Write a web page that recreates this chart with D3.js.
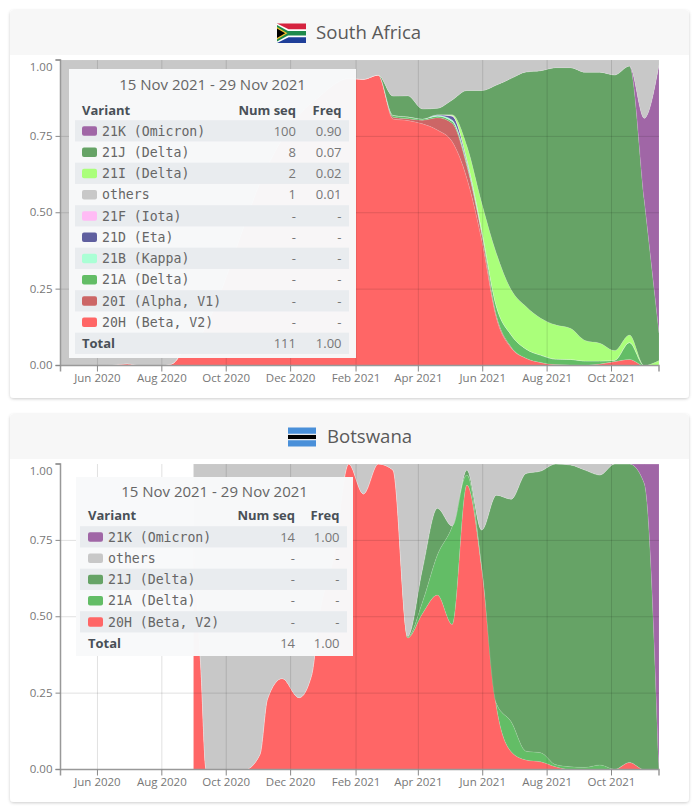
<!DOCTYPE html>
<html lang="en">
<head>
<meta charset="UTF-8">
<title>Variant frequencies</title>
<script src="https://cdn.jsdelivr.net/npm/d3@7"></script>
<style>
    html, body { margin: 0; padding: 0; background: #fff; }
    svg { display: block; font-family: "Open Sans", sans-serif; }
    .mono { font-family: "DejaVu Sans Mono", monospace; }
</style>
</head>
<body>
<svg id="fig" width="700" height="812"></svg>
<script>
// colours
const colors = {
    "21K": "#a066a6", "21J": "#66a366", "21I": "#aaff7a", "others": "#c8c8c8",
    "21F": "#ffbbf5", "21D": "#5f5f9f", "21B": "#aaffd5", "21A": "#63bd66",
    "20I": "#cc6666", "20H": "#ff6666"
}

const tickDates = ["2020-06-01", "2020-08-01", "2020-10-01", "2020-12-01", "2021-02-01", "2021-04-01", "2021-06-01", "2021-08-01", "2021-10-01"]
const yTicks = [0, 0.25, 0.5, 0.75, 1]
const domainDates = ["2020-04-27", "2021-11-15"]

// South Africa
const saDates = ["2020-04-27", "2020-05-04", "2020-05-18", "2020-06-01", "2020-06-15", "2020-06-29", "2020-07-13", "2020-07-27", "2020-08-10", "2020-08-24", "2020-09-07", "2020-09-21", "2020-10-05", "2020-10-19", "2020-11-02", "2020-11-16", "2020-11-30", "2020-12-14", "2020-12-28", "2021-01-11", "2021-01-25", "2021-02-08", "2021-02-22", "2021-03-08", "2021-03-22", "2021-04-05", "2021-04-19", "2021-05-03", "2021-05-17", "2021-05-31", "2021-06-14", "2021-06-28", "2021-07-12", "2021-07-26", "2021-08-09", "2021-08-23", "2021-09-06", "2021-09-20", "2021-10-04", "2021-10-18", "2021-11-01", "2021-11-15"]
const sa20H = [0, 0, 0, 0, .002, .006, 0, 0, .005, .06, .1, .2, .33, .47, .6, .7, .78, .84, .88, .92, .94, .937, .951, .807, .802, .791, .771, .733, .613, .411, .155, .057, .024, .01, .003, .002, .001, .005, .013, .02, 0, 0]
const sa20I = [0, 0, 0, 0, 0, 0, 0, 0, 0, 0, 0, 0, 0, 0, 0, 0, 0, 0, 0, 0, 0, 0, 0, .006, .006, .012, .04, .06, .04, .02, .008, .003, 0, 0, 0, 0, 0, 0, 0, 0, 0, 0]
const sa21A = [0, 0, 0, 0, 0, 0, 0, 0, 0, 0, 0, 0, 0, 0, 0, 0, 0, 0, 0, 0, 0, 0, 0, .006, .006, .004, .005, .006, .008, .01, .03, .04, .03, .024, .018, .018, .014, .01, .004, .055, 0, 0]
const sa21B = [0, 0, 0, 0, 0, 0, 0, 0, 0, 0, 0, 0, 0, 0, 0, 0, 0, 0, 0, 0, 0, 0, 0, 0, 0, 0, .003, .005, .004, .002, 0, 0, 0, 0, 0, 0, 0, 0, 0, 0, 0, 0]
const sa21D = [0, 0, 0, 0, 0, 0, 0, 0, 0, 0, 0, 0, 0, 0, 0, 0, 0, 0, 0, 0, 0, 0, 0, 0, 0, 0, .002, .012, .006, 0, 0, 0, 0, 0, 0, 0, 0, 0, 0, 0, 0, 0]
const sa21F = [0, 0, 0, 0, 0, 0, 0, 0, 0, 0, 0, 0, 0, 0, 0, 0, 0, 0, 0, 0, 0, 0, 0, 0, 0, 0, 0, .002, .003, .002, 0, 0, 0, 0, 0, 0, 0, 0, 0, 0, 0, 0]
const sa21I = [0, 0, 0, 0, 0, 0, 0, 0, 0, 0, 0, 0, 0, 0, 0, 0, 0, 0, 0, 0, 0, 0, 0, 0, 0, 0, 0, .003, .045, .088, .174, .148, .139, .121, .112, .102, .067, .058, .032, .025, 0, .016]
const sa21J = [0, 0, 0, 0, 0, 0, 0, 0, 0, 0, 0, 0, 0, 0, 0, 0, 0, 0, 0, 0, 0, 0, 0, .063, .069, .033, .021, .048, .181, .367, .551, .692, .768, .81, .842, .853, .878, .887, .902, .88, .542, .09]
const sa21K = [0, 0, 0, 0, 0, 0, 0, 0, 0, 0, 0, 0, 0, 0, 0, 0, 0, 0, 0, 0, 0, 0, 0, 0, 0, 0, 0, 0, 0, 0, 0, 0, 0, 0, 0, 0, 0, 0, 0, 0, .267, .878]
const saOthers = [1, 1, 1, 1, .998, .994, 1, 1, .995, .94, .9, .8, .67, .53, .4, .3, .22, .16, .12, .08, .06, .063, .049, .118, .117, .16, .158, .131, .1, .1, .082, .06, .039, .035, .025, .025, .04, .04, .049, .02, .191, .016]

const saVariants = ["21K (Omicron)", "21J (Delta)", "21I (Delta)", "others", "21F (Iota)", "21D (Eta)", "21B (Kappa)", "21A (Delta)", "20I (Alpha, V1)", "20H (Beta, V2)"]
const saNumSeq = ["100", "8", "2", "1", "-", "-", "-", "-", "-", "-"]
const saFreq = ["0.90", "0.07", "0.02", "0.01", "-", "-", "-", "-", "-", "-"]

// Botswana
const bwDates = ["2020-08-31", "2020-09-07", "2020-09-12", "2020-09-21", "2020-10-05", "2020-10-19", "2020-11-02", "2020-11-09", "2020-11-23", "2020-12-09", "2020-12-21", "2020-12-28", "2021-01-11", "2021-01-25", "2021-02-08", "2021-02-22", "2021-03-08", "2021-03-22", "2021-04-05", "2021-04-19", "2021-05-03", "2021-05-17", "2021-05-31", "2021-06-14", "2021-06-28", "2021-07-12", "2021-07-26", "2021-08-09", "2021-08-23", "2021-09-06", "2021-09-20", "2021-10-04", "2021-10-18", "2021-11-01", "2021-11-15"]
const bw20H = [.75, .33, 0, 0, 0, 0, .05, .23, .298, .235, .31, .5, .7, 1, .902, 1, .98, .431, .511, .571, .475, .931, .658, .205, .058, .031, .025, .009, 0, 0, 0, 0, .023, 0, 0]
const bw21A = [0, 0, 0, 0, 0, 0, 0, 0, 0, 0, 0, 0, 0, 0, 0, 0, 0, .003, .038, .131, .32, .033, .008, .011, .098, .029, .03, .007, .009, .007, .015, .001, 0, 0, 0]
const bw21J = [0, 0, 0, 0, 0, 0, 0, 0, 0, 0, 0, 0, 0, 0, 0, 0, 0, .002, .109, .153, .002, .016, .118, .682, .729, .909, .922, .984, .988, .973, .949, .999, .977, .937, 0]
const bw21K = [0, 0, 0, 0, 0, 0, 0, 0, 0, 0, 0, 0, 0, 0, 0, 0, 0, 0, 0, 0, 0, 0, 0, 0, 0, 0, 0, 0, 0, 0, 0, 0, 0, .063, 1]
const bwOthers = [.25, .67, 1, 1, 1, 1, .95, .77, .702, .765, .69, .5, .3, 0, .098, 0, .02, .564, .342, .145, .203, .02, .216, .102, .115, .031, .023, 0, .003, .02, .036, 0, 0, 0, 0]

const bwVariants = ["21K (Omicron)", "others", "21J (Delta)", "21A (Delta)", "20H (Beta, V2)"]
const bwNumSeq = ["14", "-", "-", "-", "-"]
const bwFreq = ["1.00", "-", "-", "-", "-"]

const parseDate = d3.utcParse("%Y-%m-%d")
const fig = d3.select("#fig")

// soft card shadow
const defs = fig.append("defs")
const shadow = defs.append("filter").attr("id", "shadow")
    .attr("x", "-2%").attr("y", "-2%").attr("width", "104%").attr("height", "104%")
shadow.append("feDropShadow").attr("dx", 0).attr("dy", 1).attr("stdDeviation", 1.5)
    .attr("flood-color", "#000").attr("flood-opacity", 0.2)

function drawFlag(g, name, x, y, w, h) {
    if (name === "South Africa") {
        g.append("rect").attr("x", x).attr("y", y).attr("width", w).attr("height", h / 2).attr("fill", "#d5233f")
        g.append("rect").attr("x", x).attr("y", y + h / 2).attr("width", w).attr("height", h / 2).attr("fill", "#1f3f99")
        g.append("path").attr("fill", "#fff")
            .attr("d", `M${x},${y} L${x + w * 0.4},${y + h * 0.3} H${x + w} V${y + h * 0.7} H${x + w * 0.4} L${x},${y + h} Z`)
        g.append("path").attr("fill", "#1f8a4c")
            .attr("d", `M${x},${y + h * 0.08} L${x + w * 0.38},${y + h * 0.38} H${x + w} V${y + h * 0.62} H${x + w * 0.38} L${x},${y + h * 0.92} Z`)
        g.append("path").attr("fill", "#f3c02d")
            .attr("d", `M${x},${y + h * 0.18} L${x + w * 0.36},${y + h / 2} L${x},${y + h * 0.82} Z`)
        g.append("path").attr("fill", "#000")
            .attr("d", `M${x},${y + h * 0.26} L${x + w * 0.28},${y + h / 2} L${x},${y + h * 0.74} Z`)
    } else {
        g.append("rect").attr("x", x).attr("y", y).attr("width", w).attr("height", h).attr("fill", "#4a90d9")
        g.append("rect").attr("x", x).attr("y", y + h * 0.33).attr("width", w).attr("height", h * 0.34).attr("fill", "#fff")
        g.append("rect").attr("x", x).attr("y", y + h * 0.39).attr("width", w).attr("height", h * 0.22).attr("fill", "#000")
    }
}

function drawPanel(p) {
    const g = fig.append("g")

    // card
    g.append("rect").attr("x", 10).attr("y", p.cardTop).attr("width", 679).attr("height", p.cardBottom - p.cardTop)
        .attr("rx", 4).attr("fill", "#fff").attr("filter", "url(#shadow)")
    g.append("path").attr("fill", "#f7f7f7")
        .attr("d", `M10,${p.headerBottom} V${p.cardTop + 4} Q10,${p.cardTop} 14,${p.cardTop} H685 Q689,${p.cardTop} 689,${p.cardTop + 4} V${p.headerBottom} Z`)
    drawFlag(g, p.name, p.flagX, p.flagY, p.flagW, p.flagH)
    g.append("text").attr("x", p.titleX).attr("y", p.titleY).attr("font-size", 18.6).attr("fill", "#5a5a5a").text(p.name)

    // scales
    const x = d3.scaleUtc().domain(domainDates.map(parseDate)).range([60.5, 659])
    const y = d3.scaleLinear().domain([0, 1]).range([p.bottom, p.top])

    // stacked areas
    const rows = p.dates.map(function (d, i) {
        const row = { date: parseDate(d) }
        p.keys.forEach(function (k) { row[k] = p.series[k][i] })
        return row
    })
    const layers = d3.stack().keys(p.keys)(rows)
    const area = d3.area()
        .curve(d3.curveMonotoneX)
        .x(d => x(d.data.date))
        .y0(d => y(d[0]))
        .y1(d => y(Math.min(d[1], 1)))
    g.append("g").selectAll("path").data(layers).join("path")
        .attr("d", area)
        .attr("fill", d => colors[d.key])
        .attr("stroke", "#fff").attr("stroke-opacity", 0.2).attr("stroke-width", 0.5)

    // grid
    const xTicks = tickDates.map(parseDate)
    g.append("g").selectAll("line").data(xTicks).join("line")
        .attr("x1", d => x(d)).attr("x2", d => x(d)).attr("y1", p.top).attr("y2", p.bottom)
        .attr("stroke", "#000").attr("stroke-opacity", 0.12)
    g.append("g").selectAll("line").data(yTicks.slice(1, 4)).join("line")
        .attr("x1", 60.5).attr("x2", 659).attr("y1", d => y(d)).attr("y2", d => y(d))
        .attr("stroke", "#000").attr("stroke-opacity", 0.12)

    // axes
    const xAxis = g.append("g").attr("transform", `translate(0,${p.bottom})`)
        .call(d3.axisBottom(x).tickValues(xTicks).tickFormat(d3.utcFormat("%b %Y")).tickSize(6).tickPadding(2).offset(0))
    const yAxis = g.append("g").attr("transform", "translate(60.5,0)")
        .call(d3.axisLeft(y).tickValues(yTicks).tickFormat(d3.format(".2f")).tickSize(5).tickPadding(3).offset(0))
    xAxis.selectAll("text").attr("font-family", "Open Sans").attr("font-size", 11.5).attr("fill", "#777")
    yAxis.selectAll("text").attr("font-family", "Open Sans").attr("font-size", 11.5).attr("fill", "#777")
    yAxis.selectAll(".tick").filter(d => d === 1).select("text").attr("dy", "0.95em")
    yAxis.selectAll(".tick").filter(d => d === 0).select("text").attr("dy", "0.3em")
    g.selectAll(".domain").attr("stroke", "#999").attr("stroke-width", 1.5)
    g.selectAll(".tick line").attr("stroke", "#888")

    // legend box
    const lg = g.append("g")
    lg.append("rect").attr("x", p.boxX).attr("y", p.boxY).attr("width", p.boxW).attr("height", p.boxH)
        .attr("fill", "#f8f9fa").attr("fill-opacity", 0.98)
    lg.append("text").attr("x", p.boxX + p.boxW / 2).attr("y", p.boxY + p.dateDy).attr("text-anchor", "middle")
        .attr("font-size", 15).attr("fill", "#666").text("15 Nov 2021 - 29 Nov 2021")

    const headY = p.boxY + p.headDy
    lg.append("text").attr("x", p.textLeft).attr("y", headY).attr("font-size", 13).attr("font-weight", 700).attr("fill", "#495057").text("Variant")
    lg.append("text").attr("x", p.numRight).attr("y", headY).attr("text-anchor", "end").attr("font-size", 13).attr("font-weight", 700).attr("fill", "#495057").text("Num seq")
    lg.append("text").attr("x", p.freqRight).attr("y", headY).attr("text-anchor", "end").attr("font-size", 13).attr("font-weight", 700).attr("fill", "#495057").text("Freq")

    const rowH = 21.25
    const legendRows = p.variants.map(function (v, i) {
        return { name: v, num: p.numSeq[i], freq: p.freq[i], key: v.split(" ")[0] }
    })
    const row = lg.selectAll("g.row").data(legendRows).join("g")
        .attr("class", "row")
        .attr("transform", (d, i) => `translate(0,${p.rowTop + i * rowH})`)
    row.filter((d, i) => i % 2 === 0).append("rect")
        .attr("x", p.stripeX).attr("width", p.stripeW).attr("height", rowH).attr("fill", "#e9ecef")
    row.append("rect").attr("x", p.textLeft).attr("y", 6).attr("width", 15).attr("height", 9.5).attr("rx", 2)
        .attr("fill", d => colors[d.key])
    row.append("text").attr("class", "mono").attr("x", p.textLeft + 20).attr("y", 15.5)
        .attr("font-size", 13.2).attr("fill", "#666").text(d => d.name)
    row.append("text").attr("x", p.numRight).attr("y", 15.5).attr("text-anchor", "end")
        .attr("font-size", 13).attr("fill", "#777").text(d => d.num)
    row.append("text").attr("x", p.freqRight).attr("y", 15.5).attr("text-anchor", "end")
        .attr("font-size", 13).attr("fill", "#777").text(d => d.freq)

    // total row
    const totalY = p.rowTop + p.variants.length * rowH
    if (p.totalStripe) {
        lg.append("rect").attr("x", p.stripeX).attr("y", totalY).attr("width", p.stripeW).attr("height", rowH).attr("fill", "#e9ecef")
    }
    lg.append("text").attr("x", p.textLeft).attr("y", totalY + 15.5).attr("font-size", 13).attr("font-weight", 700).attr("fill", "#495057").text("Total")
    lg.append("text").attr("x", p.numRight).attr("y", totalY + 15.5).attr("text-anchor", "end").attr("font-size", 13).attr("fill", "#777").text(p.total)
    lg.append("text").attr("x", p.freqRight).attr("y", totalY + 15.5).attr("text-anchor", "end").attr("font-size", 13).attr("fill", "#777").text("1.00")
}

drawPanel({
    name: "South Africa", cardTop: 10, cardBottom: 398, headerBottom: 55,
    flagX: 277, flagY: 23.5, flagW: 29, flagH: 19.5, titleX: 316, titleY: 39,
    top: 60, bottom: 365.5,
    dates: saDates,
    keys: ["20H", "20I", "21A", "21B", "21D", "21F", "21I", "21J", "21K", "others"],
    series: { "20H": sa20H, "20I": sa20I, "21A": sa21A, "21B": sa21B, "21D": sa21D, "21F": sa21F, "21I": sa21I, "21J": sa21J, "21K": sa21K, "others": saOthers },
    variants: saVariants, numSeq: saNumSeq, freq: saFreq, total: "111",
    boxX: 69, boxY: 69, boxW: 287, boxH: 289, dateDy: 21, headDy: 45.5,
    textLeft: 82, numRight: 296, freqRight: 341.5,
    stripeX: 75, stripeW: 274, rowTop: 120.2, totalStripe: true
})

drawPanel({
    name: "Botswana", cardTop: 414, cardBottom: 802, headerBottom: 459,
    flagX: 288, flagY: 427.5, flagW: 28, flagH: 19, titleX: 327, titleY: 443,
    top: 464, bottom: 769.5,
    dates: bwDates,
    keys: ["20H", "21A", "21J", "21K", "others"],
    series: { "20H": bw20H, "21A": bw21A, "21J": bw21J, "21K": bw21K, "others": bwOthers },
    variants: bwVariants, numSeq: bwNumSeq, freq: bwFreq, total: "14",
    boxX: 76, boxY: 477, boxW: 277, boxH: 179, dateDy: 19.5, headDy: 43,
    textLeft: 88, numRight: 295, freqRight: 339.5,
    stripeX: 80, stripeW: 267, rowTop: 526.2, totalStripe: false
})
</script>
</body>
</html>
